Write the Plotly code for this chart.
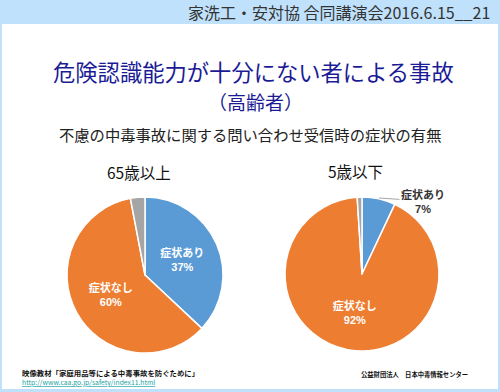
import plotly.graph_objects as go

# ---- data ----
slice_labels = ["症状あり", "症状なし", "不明"]
elderly_values = [37, 60, 3]      # 65歳以上 (%)
child_values = [7, 92, 1]         # 5歳以下 (%)
group_titles = ["65歳以上", "5歳以下"]
slice_colors = ["#5B9BD5", "#ED7D31", "#A5A5A5"]

header_text = "家洗工・安対協 合同講演会2016.6.15__21"
title_text = "危険認識能力が十分にない者による事故"
subtitle_text = "（高齢者）"
question_text = "不慮の中毒事故に関する問い合わせ受信時の症状の有無"
source_text = "映像教材「家庭用品等による中毒事故を防ぐために」"
source_url = "http://www.caa.go.jp/safety/index11.html"
org_text = "公益財団法人　日本中毒情報センター"

W, H = 500, 392
FONT = "Noto Sans CJK JP"
PCT_FONT = "Liberation Sans"

def label_html(lab, v):
    return (f"<b>{lab}</b><br>"
            f"<span style='font-family:{PCT_FONT}'><b>{v}%</b></span>")

def slice_text(values, skip=()):
    out = []
    for i, (lab, v) in enumerate(zip(slice_labels, values)):
        if i == len(values) - 1 or i in skip:
            out.append("")
        else:
            out.append(label_html(lab, v))
    return out

fig = go.Figure()

fig.add_trace(go.Pie(
    labels=slice_labels, values=elderly_values, sort=False, direction="clockwise",
    rotation=0, marker=dict(colors=slice_colors, line=dict(color="white", width=1.5)),
    text=slice_text(elderly_values), textinfo="text", textposition="inside",
    insidetextorientation="horizontal",
    textfont=dict(family=FONT, size=11, color="white"),
    domain=dict(x=[67 / W, 223 / W], y=[(H - 353) / H, (H - 197) / H]),
    showlegend=False, hoverinfo="label+percent",
))

fig.add_trace(go.Pie(
    labels=slice_labels, values=child_values, sort=False, direction="clockwise",
    rotation=0, marker=dict(colors=slice_colors, line=dict(color="white", width=1.5)),
    text=slice_text(child_values, skip=(0,)), textinfo="text", textposition="inside",
    insidetextorientation="horizontal",
    textfont=dict(family=FONT, size=11, color="white"),
    domain=dict(x=[285 / W, 439 / W], y=[(H - 351) / H, (H - 197) / H]),
    showlegend=False, hoverinfo="label+percent",
))

shapes = [
    # white inner panel
    dict(type="rect", xref="paper", yref="paper", x0=2 / W, x1=498 / W,
         y0=(H - 389) / H, y1=(H - 24) / H, fillcolor="white", line=dict(width=0), layer="below"),
]

ann = []
def A(text, x, y, size, color="#222", xanchor="center", yanchor="middle", **kw):
    ann.append(dict(text=text, x=x / W, y=(H - y) / H, xref="paper", yref="paper",
                    showarrow=False, xanchor=xanchor, yanchor=yanchor,
                    font=dict(family=FONT, size=size, color=color), **kw))

A(header_text, 492, 12, 16, color="#333", xanchor="right")
A(title_text, 253, 71, 22.3, color="#1B1B96")
A(subtitle_text, 255, 101, 19, color="#1B1B96")
A(question_text, 250, 134, 15.3, color="#222")
A(group_titles[0], 139, 172, 15.5, color="#111")
A(group_titles[1], 355, 171, 15.5, color="#111")
A("<b>" + source_text + "</b>", 20, 372, 7.4, color="#111", xanchor="left")
A(f"<a href='{source_url}' style='color:#1AA3A3'><u>{source_url}</u></a>", 20, 382, 6.8,
  color="#1AA3A3", xanchor="left")
A("<b>" + org_text + "</b>", 470, 374, 6.3, color="#111", xanchor="right")

# outside label for small slice of child pie
ann.append(dict(text=label_html(slice_labels[0], child_values[0]),
                x=379 / W, y=(H - 198) / H, xref="paper", yref="paper",
                showarrow=True, arrowhead=0, arrowwidth=1, arrowcolor="#A6A6A6",
                ax=44, ay=3, font=dict(family=FONT, size=11, color="#333")))

fig.update_layout(
    width=W, height=H, margin=dict(l=0, r=0, t=0, b=0),
    paper_bgcolor="#BFE1FB", plot_bgcolor="white",
    shapes=shapes, annotations=ann,
)

fig.write_html("out.html")
